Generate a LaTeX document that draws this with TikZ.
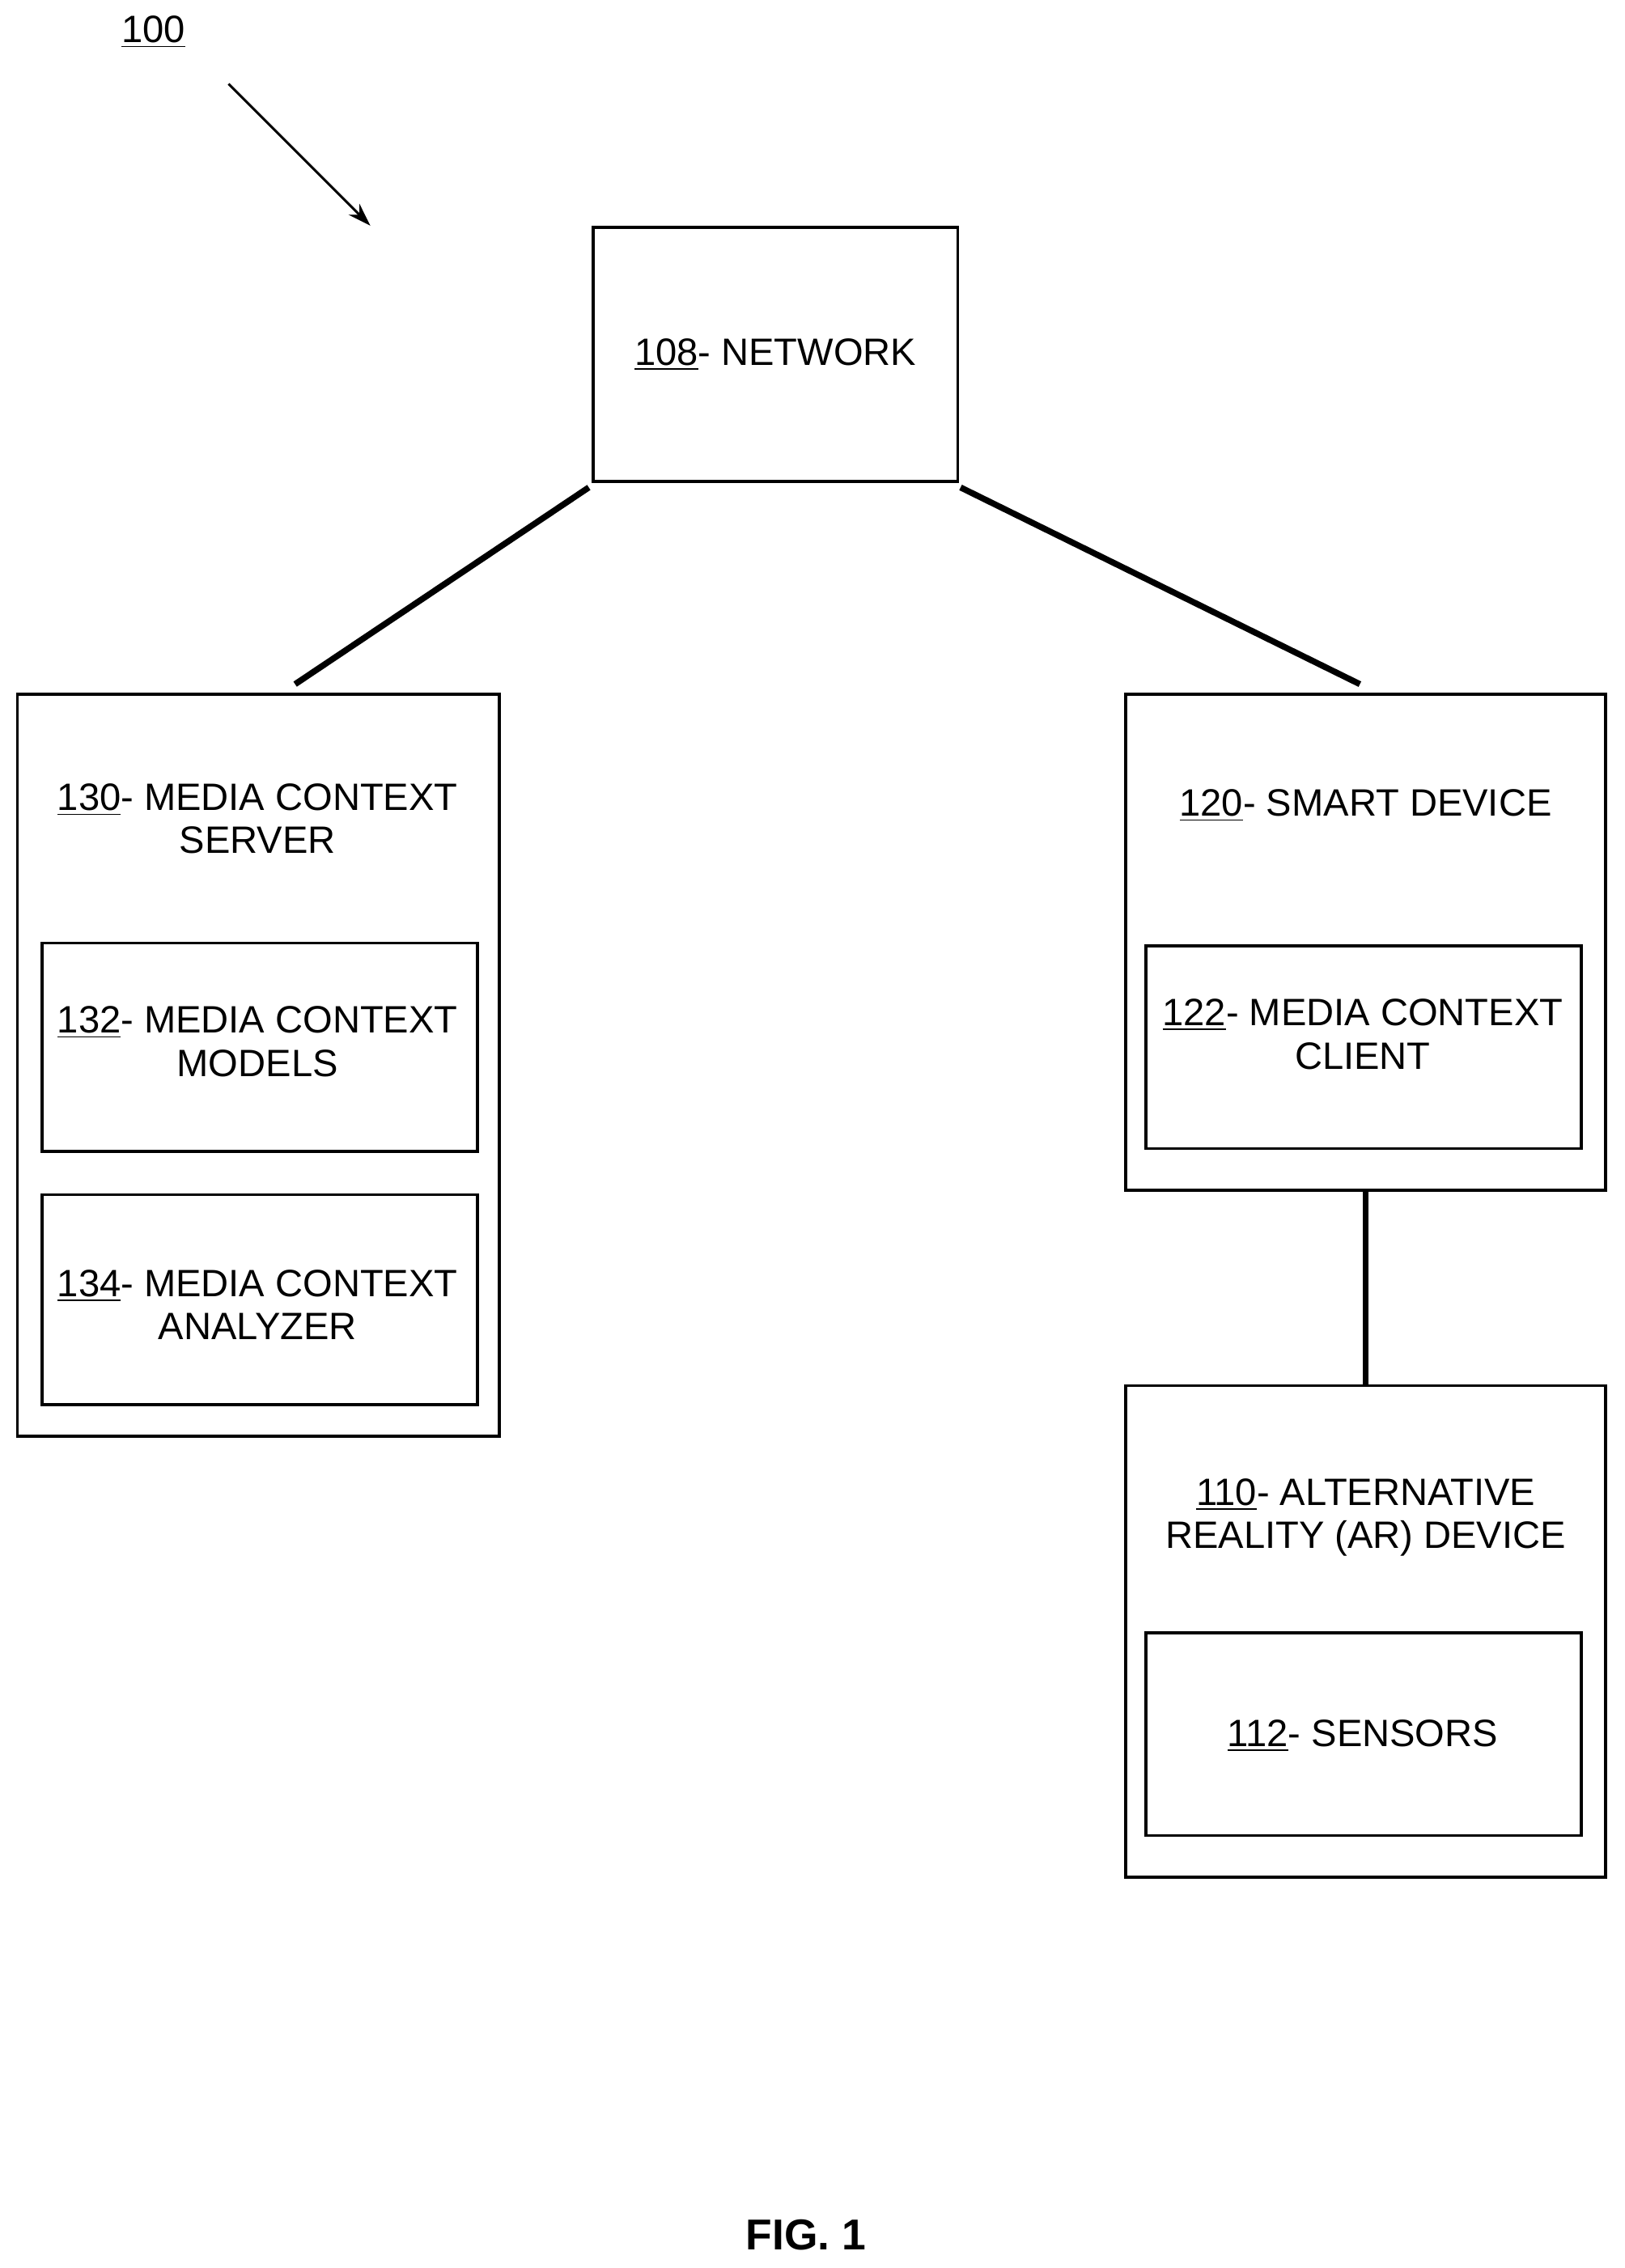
\documentclass[tikz,border=0pt]{standalone}
\usepackage{fontspec}
\setmainfont{Liberation Sans}
\usetikzlibrary{arrows.meta}
\begin{document}
\begin{tikzpicture}[x=0.02cm,y=-0.02cm,
  box/.style={draw,line width=1.2pt},
  lbl/.style={font=\fontsize{15}{17}\selectfont,align=center},
  conn/.style={line width=2.4pt}]
\useasboundingbox (0,0) rectangle (1123,1568);
\node[lbl] (n100) at (106,22) {\underline{100}};
\coordinate (a0) at (158,58);
\coordinate (a1) at (256,156);
\draw[line width=1pt,-{Stealth[length=9pt,width=6pt]}] (a0) -- (a1);
\draw[box] (410,157) rectangle (662,333);
\node[lbl] (net) at (536,245) {\underline{108}- NETWORK};
\draw[box] (12,480) rectangle (345,993);
\node[lbl] (srv) at (178,566) {\underline{130}- MEDIA CONTEXT\\SERVER};
\draw[box] (29,652) rectangle (330,796);
\node[lbl] (mod) at (178,720) {\underline{132}- MEDIA CONTEXT\\MODELS};
\draw[box] (29,826) rectangle (330,971);
\node[lbl] (ana) at (178,902) {\underline{134}- MEDIA CONTEXT\\ANALYZER};
\draw[box] (778,480) rectangle (1110,823);
\node[lbl] (sd) at (944,557) {\underline{120}- SMART DEVICE};
\draw[box] (792,654) rectangle (1093,794);
\node[lbl] (cli) at (942,715) {\underline{122}- MEDIA CONTEXT\\CLIENT};
\draw[box] (778,958) rectangle (1110,1298);
\node[lbl] (ar) at (944,1049) {\underline{110}- ALTERNATIVE\\REALITY (AR) DEVICE};
\draw[box] (792,1129) rectangle (1093,1269);
\node[lbl] (sen) at (942,1200) {\underline{112}- SENSORS};
\coordinate (c1) at (407,337); \coordinate (c2) at (204,473);
\coordinate (c3) at (664,337); \coordinate (c4) at (940,473);
\coordinate (c5) at (944,823); \coordinate (c6) at (944,958);
\draw[conn] (c1) -- (c2);
\draw[conn] (c3) -- (c4);
\draw[conn] (c5) -- (c6);
\node[font=\fontsize{17}{20}\selectfont\bfseries] (fig) at (557,1545) {FIG. 1};
\end{tikzpicture}
\end{document}
